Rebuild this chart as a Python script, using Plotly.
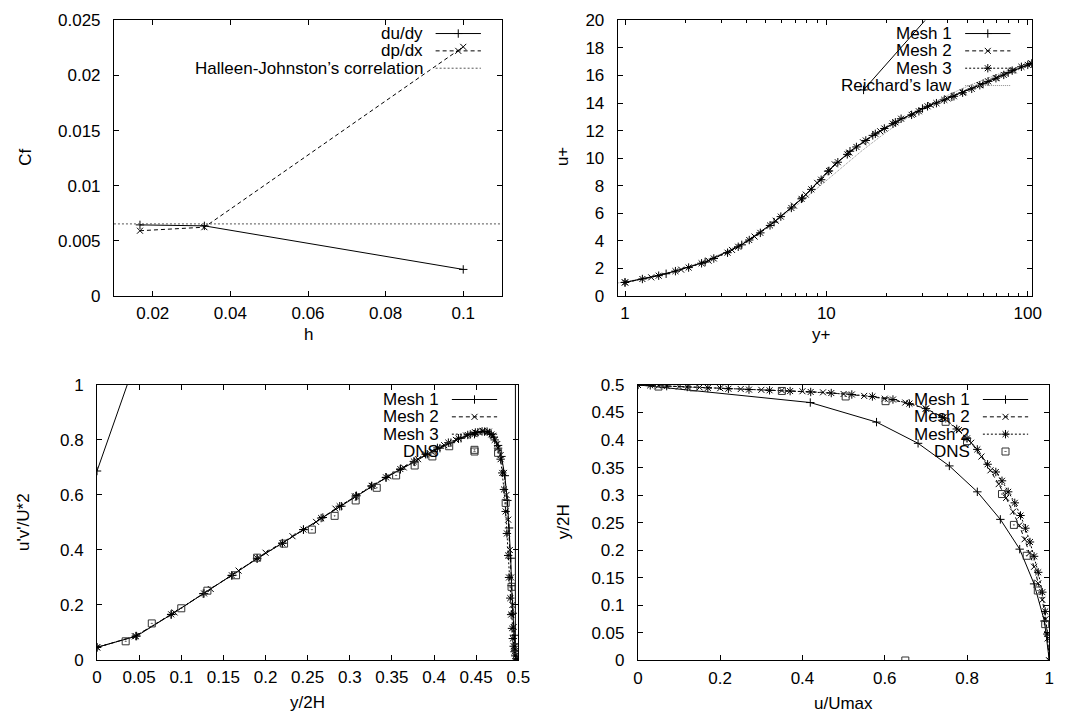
import plotly.graph_objects as go
import math

W, H = 1081, 726
FONT = "Liberation Sans, Arial, Helvetica, sans-serif"
FS = 17

# ---------------- Panel 1: Cf vs h ----------------
h_vals = [0.0167, 0.0333, 0.1]
cf_dudy = [0.00645, 0.00636, 0.00241]
cf_dpdx = [0.00592, 0.00624, 0.0226]
cf_hj = 0.00654
h_range = [0.01, 0.11]

# ---------------- Panel 2: u+ vs y+ ----------------
m1_yp = [1.0, 1.6, 2.5, 3.8, 5.5, 7.6, 10.2, 13.1, 17.0, 22.0, 30.0, 42.0, 60.0, 80.0, 104.5, None, 15.3, 62.0]
m1_up = [0.97, 1.6, 2.45, 3.7, 5.35, 7.1, 9.05, 10.5, 11.65, 12.6, 13.6, 14.45, 15.4, 16.2, 16.87, None, 14.95, 25.0]
m2_yp = [1.0, 1.35, 1.9, 2.6, 3.4, 4.4, 5.6, 6.9, 7.9, 9.0, 11.0, 13.0, 15.2, 18.5, 22.0, 27.0, 33.0, 40.0, 48.0, 58.0, 70.0, 85.0, 104.5]
m2_up = [0.97, 1.34, 1.9, 2.55, 3.33, 4.3, 5.45, 6.55, 7.35, 8.2, 9.55, 10.4, 11.15, 11.95, 12.6, 13.2, 13.85, 14.33, 14.78, 15.3, 15.82, 16.38, 16.87]
m3_yp = [1.0, 1.22, 1.47, 1.78, 2.07, 2.4, 2.76, 3.23, 3.65, 4.14, 4.7, 5.25, 5.94, 6.7, 7.53, 8.42, 9.42, 10.3, 11.4, 12.7, 14.1, 15.7, 17.5, 19.4, 21.4, 23.5, 26.5, 28.8, 31.8, 35.2, 38.5, 43.0, 47.5, 52.7, 57.8, 63.6, 69.5, 76.0, 83.7, 93.0, 100.0, 104.5]
m3_up = [0.97, 1.22, 1.46, 1.79, 2.05, 2.36, 2.71, 3.13, 3.56, 4.05, 4.57, 5.11, 5.75, 6.38, 7.04, 7.73, 8.43, 9.07, 9.7, 10.27, 10.81, 11.28, 11.76, 12.15, 12.5, 12.86, 13.14, 13.4, 13.76, 13.99, 14.23, 14.49, 14.75, 15.03, 15.29, 15.57, 15.8, 16.04, 16.35, 16.63, 16.77, 16.87]
rei_yp = [0.92, 1.0, 1.5, 2.0, 3.0, 4.0, 5.0, 6.0, 7.0, 8.0, 10.0, 12.0, 15.0, 20.0, 25.0, 30.0, 40.0, 50.0, 60.0, 80.0, 104.5]
rei_up = [0.93, 1.01, 1.52, 2.03, 3.04, 4.0, 4.9, 5.73, 6.49, 7.18, 8.37, 9.36, 10.53, 11.93, 12.89, 13.6, 14.56, 15.2, 15.68, 16.37, 17.0]
yp_range = [0.92, 104.5]

# ---------------- Panel 3: u'v'/U*2 vs y/2H ----------------
b1_x = [0.0, 0.047, 0.088, 0.126, 0.16, 0.19, 0.22, 0.245, 0.268, 0.29, 0.308, 0.326, 0.343, 0.36, 0.377, 0.392, 0.407, 0.42, 0.432, 0.443, 0.452, 0.46, 0.466, 0.471, 0.476, 0.48, 0.484, 0.487, 0.489, 0.491, 0.492, 0.4935, 0.495, 0.4965, 0.4969, 0.0]
b1_y = [0.046, 0.087, 0.165, 0.241, 0.307, 0.368, 0.425, 0.474, 0.518, 0.559, 0.597, 0.632, 0.663, 0.693, 0.72, 0.748, 0.77, 0.79, 0.806, 0.82, 0.828, 0.83, 0.825, 0.81, 0.78, 0.74, 0.67, 0.58, 0.48, 0.37, 0.27, 0.17, 0.09, 0.035, 5.03, 0.687]
b2_x = [0.0, 0.045, 0.092, 0.135, 0.168, 0.2, 0.232, 0.26, 0.283, 0.306, 0.327, 0.346, 0.364, 0.381, 0.397, 0.412, 0.426, 0.438, 0.449, 0.458, 0.465, 0.47, 0.475, 0.479, 0.483, 0.486, 0.488, 0.49, 0.4915, 0.493, 0.4945, 0.496, 0.498, 0.5]
b2_y = [0.046, 0.086, 0.173, 0.258, 0.325, 0.39, 0.45, 0.502, 0.55, 0.594, 0.633, 0.668, 0.7, 0.73, 0.757, 0.781, 0.8, 0.816, 0.827, 0.833, 0.83, 0.815, 0.785, 0.745, 0.68, 0.6, 0.51, 0.4, 0.3, 0.2, 0.12, 0.05, 0.01, 0.0]
b3_x = [0.0, 0.046, 0.088, 0.127, 0.16, 0.19, 0.22, 0.245, 0.266, 0.288, 0.307, 0.326, 0.343, 0.36, 0.376, 0.39, 0.404, 0.417, 0.429, 0.44, 0.449, 0.457, 0.463, 0.468, 0.472, 0.476, 0.479, 0.481, 0.483, 0.485, 0.4865, 0.488, 0.489, 0.4905, 0.4915, 0.4925, 0.4935, 0.4945, 0.4955, 0.4965, 0.498, 0.5]
b3_y = [0.046, 0.087, 0.166, 0.242, 0.308, 0.37, 0.424, 0.474, 0.516, 0.559, 0.596, 0.633, 0.664, 0.694, 0.722, 0.748, 0.771, 0.79, 0.806, 0.818, 0.827, 0.831, 0.83, 0.82, 0.8, 0.77, 0.73, 0.68, 0.62, 0.54, 0.46, 0.38, 0.3, 0.225, 0.165, 0.115, 0.078, 0.05, 0.03, 0.015, 0.005, 0.0]
dns3_x = [0.034, 0.065, 0.1, 0.131, 0.165, 0.19, 0.222, 0.255, 0.282, 0.307, 0.332, 0.355, 0.377, 0.398, 0.418, 0.448, 0.476, 0.485, 0.492, 0.497, 0.4985]
dns3_y = [0.068, 0.133, 0.188, 0.252, 0.308, 0.372, 0.423, 0.474, 0.524, 0.58, 0.626, 0.671, 0.707, 0.74, 0.777, 0.764, 0.753, 0.571, 0.266, 0.045, 0.01]

# ---------------- Panel 4: y/2H vs u/Umax ----------------
c1_u = [0.0, 0.419, 0.58, 0.681, 0.757, 0.825, 0.881, 0.928, 0.963, 0.988, 1.0]
c1_y = [0.5, 0.468, 0.4325, 0.394, 0.353, 0.306, 0.256, 0.202, 0.139, 0.0716, 0.0]
c2_u = [0.0, 0.05, 0.1, 0.15, 0.2, 0.25, 0.3, 0.35, 0.4, 0.45, 0.5, 0.55, 0.6, 0.65, 0.7, 0.743, 0.78, 0.81, 0.835, 0.857, 0.877, 0.895, 0.912, 0.927, 0.94, 0.952, 0.963, 0.973, 0.983, 0.991, 0.996, 1.0]
c2_y = [0.5, 0.4985, 0.497, 0.4955, 0.494, 0.4925, 0.491, 0.49, 0.4885, 0.4865, 0.4835, 0.48, 0.475, 0.468, 0.457, 0.441, 0.418, 0.395, 0.37, 0.345, 0.32, 0.295, 0.27, 0.245, 0.22, 0.195, 0.17, 0.14, 0.11, 0.075, 0.04, 0.0]
c3_u = [0.0, 0.03, 0.07, 0.12, 0.17, 0.22, 0.27, 0.32, 0.37, 0.42, 0.47, 0.52, 0.57, 0.62, 0.66, 0.7, 0.74, 0.775, 0.8, 0.825, 0.85, 0.87, 0.885, 0.9, 0.916, 0.93, 0.942, 0.953, 0.963, 0.973, 0.983, 0.99, 0.995, 1.0]
c3_y = [0.5, 0.4992, 0.4978, 0.4962, 0.4945, 0.493, 0.4915, 0.4902, 0.4888, 0.4872, 0.4852, 0.4826, 0.479, 0.4735, 0.466, 0.457, 0.441, 0.42, 0.403, 0.383, 0.356, 0.342, 0.326, 0.306, 0.286, 0.263, 0.24, 0.215, 0.189, 0.16, 0.124, 0.089, 0.048, 0.0]
dns4_u = [0.05, 0.135, 0.35, 0.505, 0.602, 0.748, 0.8, 0.885, 0.914, 0.945, 0.972, 0.99, 0.65]
dns4_y = [0.497, 0.4955, 0.489, 0.479, 0.4705, 0.433, 0.398, 0.302, 0.246, 0.19, 0.127, 0.066, 0.0]

# ---------------- geometry (pixels) ----------------
panels = {
    "tl": dict(l=110.7, r=505.0, t=11.7, b=294.7),
    "tr": dict(l=622.5, r=1043.0, t=11.7, b=294.5),
    "bl": dict(l=93.5, r=521.5, t=386.0, b=668.5),
    "br": dict(l=643.0, r=1061.0, t=386.0, b=669.0),
}


def dom(p):
    return [p["l"] / W, p["r"] / W], [1 - p["b"] / H, 1 - p["t"] / H]


BLACK = "#000000"
S1 = dict(color=BLACK, width=1, dash="solid")
S2 = dict(color=BLACK, width=1, dash="4px,3px")
S3 = dict(color=BLACK, width=1, dash="2px,2px")
SREI = dict(color="#8a8a8a", width=1, dash="1px,1px")
SHJ = dict(color="#555555", width=1, dash="2px,2px")

MK1 = dict(symbol="cross-thin-open", size=6, color=BLACK, line=dict(color=BLACK, width=1))
MK2 = dict(symbol="x-thin-open", size=6, color=BLACK, line=dict(color=BLACK, width=1))
MK3 = dict(symbol="asterisk-open", size=7, color=BLACK, line=dict(color=BLACK, width=1))
MKD = dict(symbol="square-open-dot", size=7, color="#333333", line=dict(color="#333333", width=1))

fig = go.Figure()


def add(x, y, ax, line=None, marker=None, mode="lines+markers"):
    fig.add_trace(go.Scatter(x=x, y=y, mode=mode, line=line, marker=marker,
                             xaxis="x" + ax, yaxis="y" + ax, showlegend=False,
                             connectgaps=False, hoverinfo="skip"))


# panel 1
add(h_vals, cf_dudy, "", S1, MK1)
add(h_vals, cf_dpdx, "", S2, MK2)
add(h_range, [cf_hj, cf_hj], "", SHJ, None, "lines")
# panel 2
add(rei_yp, rei_up, "2", SREI, None, "lines")
add(m1_yp, m1_up, "2", S1, MK1)
add(m2_yp, m2_up, "2", S2, MK2)
add(m3_yp, m3_up, "2", S3, MK3)
# panel 3
add(b1_x, b1_y, "3", S1, MK1)
add(b2_x, b2_y, "3", S2, MK2)
add(b3_x, b3_y, "3", S3, MK3)
add(dns3_x, dns3_y, "3", None, MKD, "markers")
# panel 4
add(c1_u, c1_y, "4", S1, MK1)
add(c2_u, c2_y, "4", S2, MK2)
add(c3_u, c3_y, "4", S3, MK3)
add(dns4_u, dns4_y, "4", None, MKD, "markers")


def axis_style(**kw):
    d = dict(showline=True, linecolor=BLACK, linewidth=1, mirror="ticks",
             ticks="inside", ticklen=5, tickwidth=1, tickcolor=BLACK,
             showgrid=False, zeroline=False,
             tickfont=dict(family=FONT, size=FS, color=BLACK))
    d.update(kw)
    return d


def fmt(v):
    s = ("%.3f" % v).rstrip("0").rstrip(".")
    return s if s else "0"


xt1 = [0.02, 0.04, 0.06, 0.08, 0.1]
yt1 = [0, 0.005, 0.01, 0.015, 0.02, 0.025]
xt2 = [1, 10, 100]
xt2_minor = [2, 3, 4, 5, 6, 7, 8, 9, 20, 30, 40, 50, 60, 70, 80, 90]
yt2 = list(range(0, 21, 2))
xt3 = [round(0.05 * i, 2) for i in range(11)]
yt3 = [0, 0.2, 0.4, 0.6, 0.8, 1]
xt4 = [0, 0.2, 0.4, 0.6, 0.8, 1]
yt4 = [round(0.05 * i, 2) for i in range(11)]

dx1, dy1 = dom(panels["tl"])
dx2, dy2 = dom(panels["tr"])
dx3, dy3 = dom(panels["bl"])
dx4, dy4 = dom(panels["br"])

STX = 2
STY = 9

fig.update_layout(
    width=W, height=H,
    margin=dict(l=0, r=0, t=0, b=0),
    paper_bgcolor="white", plot_bgcolor="rgba(0,0,0,0)",
    showlegend=False,
    font=dict(family=FONT, size=FS, color=BLACK),
    xaxis=axis_style(domain=dx1, range=h_range, anchor="y", tickvals=xt1,
                     ticktext=[fmt(v) for v in xt1], ticklabelstandoff=STX),
    yaxis=axis_style(domain=dy1, range=[0, 0.025], anchor="x", tickvals=yt1,
                     ticktext=[fmt(v) for v in yt1], ticklabelstandoff=STY),
    xaxis2=axis_style(domain=dx2, type="log", range=[math.log10(yp_range[0]), math.log10(yp_range[1])],
                      anchor="y2", tickvals=xt2, ticktext=[str(v) for v in xt2], ticklabelstandoff=STX,
                      minor=dict(ticks="inside", ticklen=3, tickwidth=1, tickcolor=BLACK,
                                 tickmode="array", tickvals=xt2_minor, showgrid=False)),
    yaxis2=axis_style(domain=dy2, range=[0, 20], anchor="x2", tickvals=yt2,
                      ticktext=[str(v) for v in yt2], ticklabelstandoff=STY),
    xaxis3=axis_style(domain=dx3, range=[0, 0.5], anchor="y3", tickvals=xt3,
                      ticktext=[fmt(v) for v in xt3], ticklabelstandoff=STX),
    yaxis3=axis_style(domain=dy3, range=[0, 1], anchor="x3", tickvals=yt3,
                      ticktext=[fmt(v) for v in yt3], ticklabelstandoff=STY),
    xaxis4=axis_style(domain=dx4, range=[0, 1], anchor="y4", tickvals=xt4,
                      ticktext=[fmt(v) for v in xt4], ticklabelstandoff=STX),
    yaxis4=axis_style(domain=dy4, range=[0, 0.5], anchor="x4", tickvals=yt4,
                      ticktext=[fmt(v) for v in yt4], ticklabelstandoff=STY),
    xaxis5=dict(domain=[0, 1], range=[0, W], visible=False, fixedrange=True, anchor="y5"),
    yaxis5=dict(domain=[0, 1], range=[H, 0], visible=False, fixedrange=True, anchor="x5"),
)

# ---------------- custom gnuplot-style keys ----------------
legends = {
    "tl": [("du/dy", S1, MK1), ("dp/dx", S2, MK2), ("Halleen-Johnston’s correlation", SHJ, None)],
    "tr": [("Mesh 1", S1, MK1), ("Mesh 2", S2, MK2), ("Mesh 3", S3, MK3), ("Reichard’s law", SREI, None)],
    "bl": [("Mesh 1", S1, MK1), ("Mesh 2", S2, MK2), ("Mesh 3", S3, MK3), ("DNS", None, MKD)],
    "br": [("Mesh 1", S1, MK1), ("Mesh 2", S2, MK2), ("Mesh 2", S3, MK3), ("DNS", None, MKD)],
}
first_row = {"tl": 13.5, "tr": 13.5, "bl": 15.0, "br": 15.0}
ROW = 17.8

annotations = []
for key, entries in legends.items():
    p = panels[key]
    s_end = p["r"] - 21.5
    s_start = p["r"] - 67.5
    t_right = p["r"] - 78.5
    for i, (label, ls, mk) in enumerate(entries):
        yy = p["t"] + first_row[key] + i * ROW
        annotations.append(dict(x=t_right / W, y=1 - yy / H, xref="paper", yref="paper",
                                text=label, showarrow=False, xanchor="right", yanchor="middle",
                                font=dict(family=FONT, size=FS, color=BLACK)))
        if ls is not None:
            fig.add_trace(go.Scatter(x=[s_start, s_end], y=[yy, yy], mode="lines", line=ls,
                                     xaxis="x5", yaxis="y5", showlegend=False, hoverinfo="skip"))
        if mk is not None:
            fig.add_trace(go.Scatter(x=[(s_start + s_end) / 2], y=[yy], mode="markers", marker=mk,
                                     xaxis="x5", yaxis="y5", showlegend=False, hoverinfo="skip"))

# axis titles
titles = [
    ("Cf", 20, 152, -90), ("h", 308, 334, 0),
    ("u+", 566, 152, -90), ("y+", 830, 334, 0),
    ("u'v'/U*2", 19, 527, -90), ("y/2H", 307, 712, 0),
    ("y/2H", 567, 527, -90), ("u/Umax", 852, 713, 0),
]
for txt, px, py, ang in titles:
    annotations.append(dict(x=px / W, y=1 - py / H, xref="paper", yref="paper", text=txt,
                            showarrow=False, xanchor="center", yanchor="middle", textangle=ang,
                            font=dict(family=FONT, size=FS, color=BLACK)))

fig.update_layout(annotations=annotations)
fig.write_html("out.html")
